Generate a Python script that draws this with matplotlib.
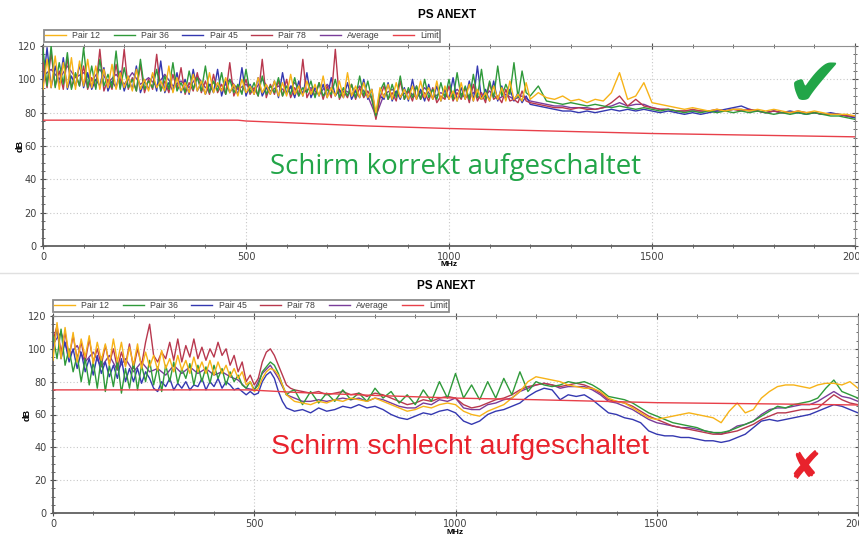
import numpy as np
import matplotlib
matplotlib.use("Agg")
import matplotlib.pyplot as plt
from matplotlib.lines import Line2D

# ---------------- data ----------------
series_names = ["Pair 12", "Pair 36", "Pair 45", "Pair 78", "Average", "Limit"]

# ---- Top panel (shield correctly connected) ----
# noisy part: 0 .. 1190 MHz every 10 MHz ; tail: 1200 .. 2000 MHz every 20 MHz
top_p12_noisy = [94,112,95,114,94,110,95,113,94,111,96,112,95,108,94,106,95,109,94,104,
                 95,102,93,106,94,100,93,104,95,99,93,108,92,101,93,98,92,103,93,99,
                 91,104,92,98,93,101,92,97,90,100,92,96,91,101,92,97,91,99,90,98,
                 90,103,91,96,90,99,91,97,90,102,89,95,90,99,89,104,90,96,89,98,
                 89,94,80,95,89,97,88,98,89,94,88,96,88,99,89,95,88,99,87,96,
                 88,93,87,98,88,97,87,94,88,92,87,96,88,95,87,99,88,91,87,98]
top_p12_tail = [88,92,89,88,90,87,88,86,88,87,92,104,88,90,98,86,85,84,83,82,
                83,82,81,82,81,82,82,81,82,81,82,81,80,81,80,81,80,79,79,79,78]
top_p36_noisy = [118,96,120,95,110,97,116,94,104,96,119,95,108,94,112,96,103,95,117,94,
                 107,95,100,93,112,94,99,95,106,93,102,94,110,93,98,92,105,94,101,93,
                 108,92,99,93,104,91,100,92,97,91,106,92,98,90,102,91,96,92,101,90,
                 96,91,101,90,95,92,99,89,98,90,94,91,100,89,95,90,97,89,102,90,
                 99,88,78,93,98,88,97,89,102,88,95,89,96,88,100,89,94,88,98,89,
                 100,88,104,89,96,88,103,89,106,88,99,89,108,90,97,91,110,89,105,92]
top_p36_tail = [90,96,87,86,85,86,85,84,85,84,83,84,83,82,83,82,81,82,81,80,
                81,80,81,80,81,80,81,80,81,80,79,80,79,80,79,80,79,78,78,77,76]
top_p45_noisy = [96,119,95,108,96,113,94,102,96,109,95,104,94,100,96,107,93,99,95,105,
                 93,101,94,108,92,99,94,103,93,111,92,98,93,104,92,100,91,106,93,98,
                 91,97,92,106,90,99,92,96,91,107,90,97,91,101,90,95,91,99,89,104,
                 91,96,89,99,90,104,89,95,90,97,89,101,90,94,89,98,88,93,89,100,
                 88,94,77,90,88,98,87,93,88,95,87,100,88,94,87,97,88,96,87,94,
                 88,101,87,95,88,99,87,108,88,94,87,99,87,96,88,94,87,92,86,90]
top_p45_tail = [85,84,83,82,81,81,80,81,80,81,82,81,82,81,82,81,80,81,80,79,
                80,79,80,81,82,83,84,82,81,80,81,80,81,80,79,80,79,80,79,78,77]
top_p78_noisy = [110,95,116,96,105,94,113,95,103,96,108,94,101,95,118,93,100,94,109,95,
                 118,94,101,93,109,92,100,94,115,93,99,92,103,94,107,91,98,93,104,92,
                 99,91,103,92,97,91,110,90,96,92,100,91,95,90,112,89,97,91,99,90,
                 100,89,95,90,112,89,94,90,98,88,96,89,118,88,93,89,97,88,95,89,
                 93,88,76,89,96,88,92,87,99,88,93,87,96,88,92,87,95,86,90,88,
                 96,87,92,88,95,86,97,87,92,86,98,88,90,86,94,87,88,86,93,87]
top_p78_tail = [86,85,84,83,83,82,83,82,82,83,86,90,84,88,84,83,82,82,81,81,
                82,81,81,82,81,82,81,82,81,80,81,80,80,81,80,80,79,79,79,78,78]
# Average: 0 .. 2000 MHz every 20 MHz
top_avg = [102,106,100,108,101,104,99,106,98,103,97,104,97,101,96,103,96,99,95,102,
           95,98,94,100,94,97,93,100,93,96,92,98,92,95,91,97,91,94,91,96,
           90,78,91,94,90,93,89,95,89,92,89,94,89,92,88,93,88,91,88,90,
           87,86,85,84,84,83,83,83,82,83,84,86,84,85,85,83,82,82,81,81,
           81,81,81,81,81,82,82,81,81,80,81,80,80,80,80,80,79,79,79,78,77]

# ---- Bottom panel (shield badly connected) ----
# noisy part: 0 .. 590 MHz every 10 MHz ; tail: 600 .. 2000 MHz every 20 MHz
bot_p12_noisy = [93,116,94,113,95,110,92,106,95,108,91,104,93,103,90,106,92,104,89,101,
                 90,103,88,98,89,96,87,99,88,94,86,96,87,93,85,95,86,92,85,93,
                 84,92,85,90,83,88,82,86,78,80,74,76,82,86,88,87,84,78,72,70]
bot_p12_tail = [68,67,66,68,67,69,68,70,69,68,
                70,68,66,64,62,63,65,64,66,67,66,62,60,59,62,64,66,70,74,80,
                83,82,81,80,78,77,76,76,74,70,68,67,64,61,58,57,58,59,60,61,
                60,59,58,55,62,67,61,63,70,74,77,78,78,77,76,78,79,79,78,80,76]
bot_p36_noisy = [108,94,112,90,100,86,96,80,94,78,92,76,95,74,90,77,93,73,88,76,
                 92,75,90,80,93,78,89,74,90,80,92,79,88,82,91,78,90,80,89,79,
                 90,82,88,78,86,80,84,78,76,80,75,78,86,89,92,90,85,78,72,74]
bot_p36_tail = [75,66,74,67,73,68,75,69,73,68,
                76,70,74,67,72,66,75,68,80,70,85,70,78,69,80,70,82,72,86,74,
                80,78,77,78,80,79,80,78,75,71,70,69,67,64,61,59,57,55,54,53,
                52,50,49,49,50,52,54,56,59,62,65,64,66,67,68,70,76,81,74,72,70]
bot_p45_noisy = [100,112,94,104,92,100,88,98,86,94,84,96,85,92,83,90,82,94,80,88,
                 80,88,79,86,82,76,74,80,77,82,75,79,76,80,75,78,77,82,75,80,
                 77,82,76,80,78,75,76,74,72,74,72,73,80,84,86,82,74,68,64,63]
bot_p45_tail = [62,63,61,64,62,63,65,64,66,64,
                65,63,60,58,57,59,61,60,62,63,61,56,54,56,60,62,63,65,67,71,
                74,76,75,69,72,71,72,69,65,61,60,58,57,55,50,48,47,47,46,46,
                45,44,44,43,44,46,48,52,56,57,56,57,58,59,60,62,64,66,65,63,61]
bot_p78_noisy = [105,114,98,110,95,108,94,104,92,106,92,100,90,102,91,100,88,98,90,103,
                 88,100,90,104,115,96,92,98,94,104,93,106,92,102,95,106,94,101,93,100,
                 95,104,96,100,90,96,86,92,80,84,78,82,92,98,100,96,90,84,78,76]
bot_p78_tail = [75,74,73,74,72,73,74,72,73,71,
                73,72,70,68,66,67,69,68,70,71,70,66,64,65,67,69,70,72,75,77,
                78,79,78,77,78,79,78,76,73,69,68,67,65,62,59,57,55,53,52,51,
                50,49,48,48,49,50,52,54,57,59,61,61,62,63,63,64,68,72,69,67,66]
# Average: 0 .. 2000 MHz every 20 MHz
bot_avg = [103,110,96,102,92,98,89,96,87,94,86,92,86,88,84,90,85,89,85,88,
           84,86,83,81,76,75,85,90,82,72,70,68,68,69,68,69,70,69,70,68,
           70,69,67,65,64,64,67,66,69,68,70,64,63,63,66,67,69,70,74,76,
           78,79,78,76,77,77,77,75,72,68,67,65,63,60,57,55,54,53,52,52,
           51,50,49,48,50,53,54,56,60,63,64,64,65,66,66,68,71,74,71,70,68]

limit_f = [0, 480, 500, 600, 800, 1000, 1200, 1500, 1800, 2000]
top_limit = [75.5, 75.5, 75.0, 74.0, 72.0, 70.5, 69.3, 67.5, 66.3, 65.5]
bot_limit = [75.0, 75.0, 74.8, 73.5, 71.6, 70.0, 69.0, 67.2, 66.4, 65.8]

x_ticks = [0, 500, 1000, 1500, 2000]
y_ticks = [0, 20, 40, 60, 80, 100, 120]

colors = {"Pair 12": "#F7B318", "Pair 36": "#2F9A3A", "Pair 45": "#3438B0",
          "Pair 78": "#B8384E", "Average": "#7A3C9A", "Limit": "#E8404A"}

W, H = 859, 535
fig = plt.figure(figsize=(W / 100, H / 100), dpi=100)
fig.patch.set_facecolor("white")


def px(x, y):
    return x / W, 1 - y / H


def join(noisy, noisy_step, tail, tail_start, tail_step):
    f = np.concatenate([np.arange(len(noisy)) * noisy_step,
                        tail_start + np.arange(len(tail)) * tail_step])
    return f, np.concatenate([noisy, tail])


def draw_panel(rect, series, avg, limit, title_xy, mhz_xy, db_xy, leg_x, leg_y):
    ax = fig.add_axes(rect)
    fa = np.arange(len(avg)) * 20
    ax.plot(fa, avg, color=colors["Average"], lw=1.0, zorder=3)
    for name in ["Pair 45", "Pair 78", "Pair 36", "Pair 12"]:
        f, v = series[name]
        ax.plot(f, v, color=colors[name], lw=1.0, zorder=3)
    ax.plot(limit_f, limit, color=colors["Limit"], lw=1.0, zorder=5)
    ax.set_xlim(0, 2000)
    ax.set_ylim(0, 120)
    ax.set_xticks(x_ticks)
    ax.set_xticks(np.arange(0, 2001, 100), minor=True)
    ax.set_yticks(y_ticks)
    ax.set_yticks(np.arange(0, 121, 5), minor=True)
    ax.grid(True, which="major", color="#C8C8C8", ls=(0, (1, 2)), lw=0.8)
    ax.tick_params(which="both", direction="inout", top=True, right=True,
                   colors="#505050", labelcolor="#404040", labelsize=7, pad=2)
    ax.tick_params(which="major", length=5, width=0.8)
    ax.tick_params(which="minor", length=3, width=0.6)
    for s in ["left", "bottom"]:
        ax.spines[s].set_color("#606060")
        ax.spines[s].set_linewidth(1.3)
    for s in ["top", "right"]:
        ax.spines[s].set_color("#909090")
        ax.spines[s].set_linewidth(0.8)
    fig.text(*px(*title_xy), "PS ANEXT", ha="center", va="center",
             fontsize=8.5, fontweight="bold", family="Liberation Sans")
    fig.text(*px(*mhz_xy), "MHz", ha="center", va="center",
             fontsize=6, fontweight="bold", family="Liberation Sans")
    fig.text(*px(*db_xy), "dB", ha="center", va="center", rotation=90,
             fontsize=6.5, fontweight="bold", family="Liberation Sans")
    handles = [Line2D([], [], color=colors[n], lw=1.0) for n in series_names]
    leg = fig.legend(handles, series_names, loc="center left",
                     bbox_to_anchor=(leg_x / W, 1 - leg_y / H), ncol=6,
                     handlelength=2.4, handletextpad=0.7, columnspacing=1.55,
                     borderpad=0.12, borderaxespad=0, frameon=True, fancybox=False,
                     prop={"family": "Liberation Sans", "size": 6.3})
    leg.get_frame().set_edgecolor("#707070")
    leg.get_frame().set_linewidth(1.3)
    for t in leg.get_texts():
        t.set_color("#404040")
    return ax


top_series = {"Pair 12": join(top_p12_noisy, 10, top_p12_tail, 1200, 20),
              "Pair 36": join(top_p36_noisy, 10, top_p36_tail, 1200, 20),
              "Pair 45": join(top_p45_noisy, 10, top_p45_tail, 1200, 20),
              "Pair 78": join(top_p78_noisy, 10, top_p78_tail, 1200, 20)}
bot_series = {"Pair 12": join(bot_p12_noisy, 10, bot_p12_tail, 600, 20),
              "Pair 36": join(bot_p36_noisy, 10, bot_p36_tail, 600, 20),
              "Pair 45": join(bot_p45_noisy, 10, bot_p45_tail, 600, 20),
              "Pair 78": join(bot_p78_noisy, 10, bot_p78_tail, 600, 20)}

ax1 = draw_panel([43 / W, (H - 246) / H, 812 / W, 200 / H], top_series, top_avg,
                 top_limit, (447, 15), (449, 265), (20, 146), 44, 36)
ax2 = draw_panel([53 / W, (H - 513) / H, 805 / W, 197 / H], bot_series, bot_avg,
                 bot_limit, (446, 286), (455, 532), (27, 415), 53, 306)

# separator between the two panels
fig.add_artist(Line2D([0, 1], [1 - 273 / H, 1 - 273 / H], color="#E0E0E0", lw=1.0))

fig.text(*px(456, 167), "Schirm korrekt aufgeschaltet", ha="center", va="center",
         fontsize=20, color="#22A548", family="Open Sans")
fig.text(*px(460, 447), "Schirm schlecht aufgeschaltet", ha="center", va="center",
         fontsize=20.5, color="#E8222C", family="Liberation Sans")
fig.text(*px(815, 86), "\u2714", ha="center", va="center",
         fontsize=50, color="#22A548", family="DejaVu Sans")
fig.text(*px(805, 468), "\u2718", ha="center", va="center",
         fontsize=28, color="#E8222C", family="DejaVu Sans")

fig.savefig("out.png", dpi=100, facecolor="white")
